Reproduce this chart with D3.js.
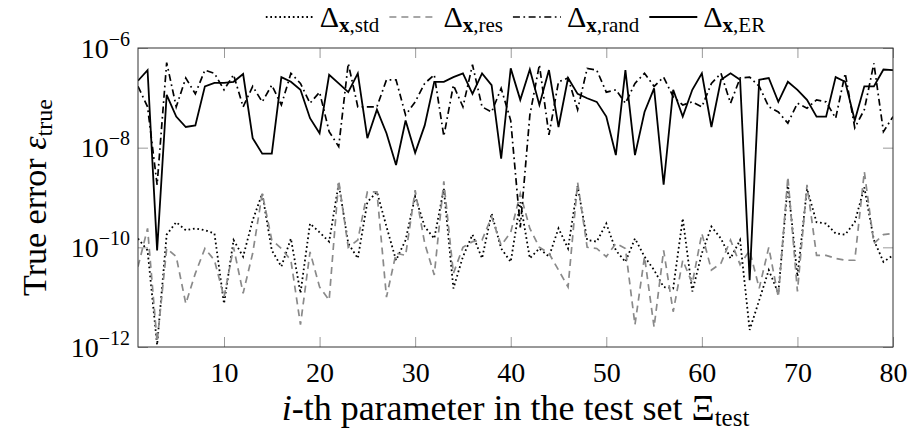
<!DOCTYPE html>
<html lang="en">
<head>
  <meta charset="UTF-8">
  <style>
    html, body { margin: 0; padding: 0; background: #fff; }
    svg text { font-family: "Liberation Serif", "Times New Roman", serif; fill: #000; }
  </style>
  <script src="https://d3js.org/d3.v7.min.js"></script>
</head>
<body>
  <svg id="chart" width="911" height="434" font-family="Liberation Serif, serif"></svg>

  <script>
    // x = index of the parameter in the test set (1..80)
    const xTicks = [10, 20, 30, 40, 50, 60, 70, 80];
    const yTicks = [1e-12, 1e-10, 1e-8, 1e-6];
    const yTickExp = ["−12", "−10", "−8", "−6"];

    const stdErr = [
      1.5e-10, 8.7e-11, 1.1e-12, 1.8e-10, 3.2e-10, 2.2e-10, 2.4e-10, 2.2e-10, 1.9e-10, 7.4e-12,
      1.4e-10, 6.5e-11, 3.5e-10, 1.2e-9, 8.7e-11, 4.1e-11, 1.5e-10, 1.2e-11, 3.0e-10, 2.0e-10,
      1.3e-10, 1.9e-9, 1.2e-10, 6.0e-11, 8.1e-10, 1.3e-9, 2.6e-10, 5.5e-11, 1.4e-10, 1.05e-9,
      2.6e-10, 1.5e-10, 1.5e-9, 1.5e-11, 6.5e-11, 1.8e-10, 6.0e-11, 4.8e-10, 9.5e-11, 5.1e-11,
      8.1e-10, 6.0e-11, 9.5e-11, 6.5e-11, 2.4e-10, 9.5e-11, 1.7e-9, 1.4e-10, 1.3e-10, 3.0e-10,
      8.7e-11, 5.1e-11, 1.5e-10, 6.5e-11, 3.5e-11, 1.6e-11, 1.5e-11, 3.8e-10, 1.3e-11, 7.6e-11,
      2.6e-10, 1.5e-10, 6.0e-11, 1.4e-10, 2.2e-12, 8.7e-12, 3.5e-11, 1.2e-11, 1.9e-9, 2.6e-11,
      1.5e-9, 3.2e-10, 3.0e-10, 1.9e-10, 1.8e-10, 3.2e-10, 1.6e-9, 1.4e-10, 5.1e-11, 6.9e-11
    ];
    const resErr = [
      4.1e-11, 2.4e-10, 1.26e-12, 9.5e-11, 6.5e-11, 7.4e-12, 3.0e-11, 9.5e-11, 5.5e-11, 1.0e-11,
      1.0e-10, 1.2e-11, 7.6e-11, 1.2e-9, 1.4e-10, 9.5e-11, 5.5e-11, 2.8e-12, 8.1e-11, 1.6e-11,
      8.7e-12, 2.2e-9, 1.0e-10, 1.4e-10, 1.3e-9, 1.3e-9, 1.0e-11, 7.6e-11, 6.9e-11, 1.4e-9,
      1.2e-10, 2.8e-11, 2.1e-9, 3.0e-11, 1.0e-10, 1.3e-10, 1.4e-10, 4.1e-10, 1.1e-10, 2.0e-10,
      1.2e-9, 2.4e-10, 1.0e-10, 7.6e-11, 3.5e-11, 1.6e-11, 2.0e-9, 1.0e-10, 9.5e-11, 6.5e-11,
      1.2e-10, 9.5e-11, 2.8e-12, 6.5e-11, 2.5e-12, 8.7e-11, 5.1e-12, 5.5e-11, 1.9e-11, 1.9e-10,
      3.5e-11, 4.8e-11, 1.4e-10, 4.5e-11, 8.7e-11, 1.5e-11, 1.0e-10, 1.0e-11, 2.6e-9, 1.3e-11,
      1.8e-9, 6.9e-11, 6.9e-11, 6.0e-11, 5.5e-11, 5.5e-11, 3.3e-9, 1.2e-10, 1.8e-10, 1.9e-10
    ];
    const randErr = [
      1.7e-7, 6.6e-8, 1.8e-9, 5.1e-7, 6.6e-8, 2.5e-7, 1.2e-7, 3.6e-7, 3.1e-7, 1.45e-7,
      2.9e-7, 6.6e-8, 1.7e-7, 8.3e-8, 1.8e-7, 7.2e-8, 3.1e-7, 1.95e-7, 7.8e-8, 1.3e-7,
      2.1e-8, 1.05e-8, 4.9e-7, 6.6e-8, 6.6e-8, 6.6e-8, 2.3e-7, 2.3e-7, 4.5e-8, 8.3e-8,
      1.95e-7, 2.9e-7, 1.7e-8, 1.8e-7, 6.6e-8, 4.6e-7, 6.6e-8, 5.2e-8, 1.55e-7, 3.5e-8,
      2.5e-10, 4.5e-8, 4.6e-7, 1.8e-8, 2.1e-7, 2.5e-7, 5.8e-8, 3.9e-7, 3.6e-7, 1.3e-7,
      1.45e-7, 7.8e-8, 1.95e-7, 3.1e-7, 1.7e-7, 2.6e-7, 1.05e-7, 7.2e-8, 8.3e-8, 6.6e-8,
      1.95e-7, 3.1e-7, 7.8e-8, 2.5e-7, 2.6e-7, 1.7e-7, 6.6e-8, 5.2e-8, 3.1e-8, 7.8e-8,
      6.2e-8, 9.1e-8, 8.3e-8, 3.9e-8, 3.1e-7, 2.5e-8, 5.8e-8, 4.9e-7, 2.1e-8, 4.2e-8
    ];
    const erErr = [
      2.2e-7, 3.6e-7, 8.7e-11, 1.15e-7, 4.2e-8, 2.6e-8, 2.8e-8, 1.7e-7, 2.0e-7, 2.0e-7,
      2.1e-7, 3.0e-7, 1.55e-8, 7.6e-9, 7.6e-9, 2.6e-7, 2.1e-7, 1.45e-7, 3.9e-8, 1.95e-8,
      2.9e-7, 1.95e-7, 1.3e-7, 3.1e-7, 1.55e-8, 5.8e-8, 1.95e-8, 4.5e-9, 3.5e-8, 7.9e-9,
      2.8e-8, 2.1e-7, 2.1e-7, 2.6e-7, 3.1e-7, 1.2e-7, 3.1e-7, 1.8e-7, 6.0e-9, 3.9e-7,
      9.1e-8, 3.7e-7, 7.2e-8, 3.6e-7, 2.6e-8, 2.5e-7, 1.2e-7, 9.8e-8, 8.3e-8, 4.2e-8,
      7.1e-9, 3.6e-7, 7.1e-9, 5.2e-8, 1.55e-7, 1.8e-9, 1.45e-7, 4.2e-8, 1.45e-7, 3.1e-7,
      2.6e-8, 2.3e-7, 3.1e-7, 2.3e-7, 2.2e-11, 2.3e-7, 2.5e-7, 8.3e-8, 2.1e-7, 1.45e-7,
      9.1e-8, 4.2e-8, 4.2e-8, 2.6e-7, 2.1e-7, 3.5e-8, 1.7e-7, 1.7e-7, 3.7e-7, 3.6e-7
    ];

    const series = [
      { name: "std",  values: stdErr,  color: "#000", dash: "1.7,2.8", width: 1.8 },
      { name: "res",  values: resErr,  color: "#8a8a8a", dash: "7,5", width: 1.7 },
      { name: "rand", values: randErr, color: "#000", dash: "7,3.5,1.7,3.5", width: 1.7 },
      { name: "ER",   values: erErr,   color: "#000", dash: null, width: 1.8 }
    ];

    const FONT = "'Liberation Serif', 'Times New Roman', serif";
    const svg = d3.select("#chart");
    const pLeft = 138, pRight = 893, pTop = 48, pBottom = 347;

    const x = d3.scaleLinear().domain([1, 80]).range([pLeft, pRight]);
    const y = d3.scaleLog().domain([1e-12, 1e-6]).range([pBottom, pTop]);

    // clip for the lines
    svg.append("clipPath").attr("id", "clip")
      .append("rect")
      .attr("x", pLeft).attr("y", pTop)
      .attr("width", pRight - pLeft).attr("height", pBottom - pTop);

    // ticks (inside, mirrored on all four sides)
    function styleTicks(g) {
      g.select(".domain").remove();
      g.attr("font-family", null);
      g.selectAll(".tick line").attr("stroke", "#9a9a9a").attr("stroke-width", 1);
    }
    svg.append("g")
      .attr("transform", `translate(0,${pBottom})`)
      .call(d3.axisBottom(x).tickValues(xTicks).tickSize(-10))
      .call(styleTicks)
      .call(g => g.selectAll(".tick text")
        .style("font-family", FONT)
        .attr("font-size", 28)
        .attr("y", 35)
        .attr("dy", 0));
    svg.append("g")
      .attr("transform", `translate(0,${pTop})`)
      .call(d3.axisTop(x).tickValues(xTicks).tickSize(-10).tickFormat(""))
      .call(styleTicks);
    const yAxisG = svg.append("g")
      .attr("transform", `translate(${pLeft},0)`)
      .call(d3.axisLeft(y).tickValues(yTicks).tickSize(-10).tickFormat(""))
      .call(styleTicks);
    svg.append("g")
      .attr("transform", `translate(${pRight},0)`)
      .call(d3.axisRight(y).tickValues(yTicks).tickSize(-10).tickFormat(""))
      .call(styleTicks);

    // y tick labels as 10^exp
    yAxisG.selectAll(".tick").each(function (d, i) {
      const t = d3.select(this).append("text")
        .style("font-family", FONT)
        .attr("x", -8).attr("y", 9)
        .attr("text-anchor", "end")
        .attr("font-size", 28);
      t.append("tspan").text("10");
      t.append("tspan").attr("dy", -12).attr("font-size", 20).text(yTickExp[i]);
    });

    // lines
    const line = d3.line()
      .x((d, i) => x(i + 1))
      .y(d => y(d));

    svg.append("g").attr("clip-path", "url(#clip)")
      .selectAll("path")
      .data(series)
      .join("path")
      .attr("d", d => line(d.values))
      .attr("fill", "none")
      .attr("stroke", d => d.color)
      .attr("stroke-width", d => d.width)
      .attr("stroke-dasharray", d => d.dash)
      .attr("stroke-linejoin", "miter");

    // frame
    svg.append("rect")
      .attr("x", pLeft).attr("y", pTop)
      .attr("width", pRight - pLeft).attr("height", pBottom - pTop)
      .attr("fill", "none")
      .attr("stroke", "#333")
      .attr("stroke-width", 1);

    // axis labels
    svg.append("text")
      .style("font-family", FONT)
      .attr("x", (pLeft + pRight) / 2)
      .attr("y", 420)
      .attr("text-anchor", "middle")
      .attr("font-size", 36)
      .call(t => {
        t.append("tspan").attr("font-style", "italic").text("i");
        t.append("tspan").text("-th parameter in the test set Ξ");
        t.append("tspan").attr("font-size", 25).attr("dy", 6).text("test");
      });

    svg.append("text")
      .style("font-family", FONT)
      .attr("transform", `translate(46,${(pTop + pBottom) / 2}) rotate(-90)`)
      .attr("text-anchor", "middle")
      .attr("font-size", 34)
      .call(t => {
        t.append("tspan").text("True error ");
        t.append("tspan").attr("font-style", "italic").text("ε");
        t.append("tspan").attr("font-size", 24).attr("dy", 6).text("true");
      });

    // legend
    const legend = svg.append("g");
    let cx = 0;
    series.forEach(s => {
      legend.append("line")
        .attr("x1", cx).attr("x2", cx + 48)
        .attr("y1", 17).attr("y2", 17)
        .attr("stroke", s.color)
        .attr("stroke-width", s.width)
        .attr("stroke-dasharray", s.dash);
      const t = legend.append("text")
        .style("font-family", FONT)
        .attr("x", cx + 54).attr("y", 27)
        .attr("font-size", 30);
      t.append("tspan").text("Δ");
      t.append("tspan").attr("dy", 5).attr("font-size", 21).attr("font-weight", "bold").text("x");
      t.append("tspan").attr("font-size", 21).text("," + s.name);
      cx += 54 + t.node().getComputedTextLength() + 10;
    });
    const lw = cx - 10;
    legend.attr("transform", `translate(${(pLeft + pRight) / 2 - lw / 2},0)`);
  </script>
</body>
</html>
